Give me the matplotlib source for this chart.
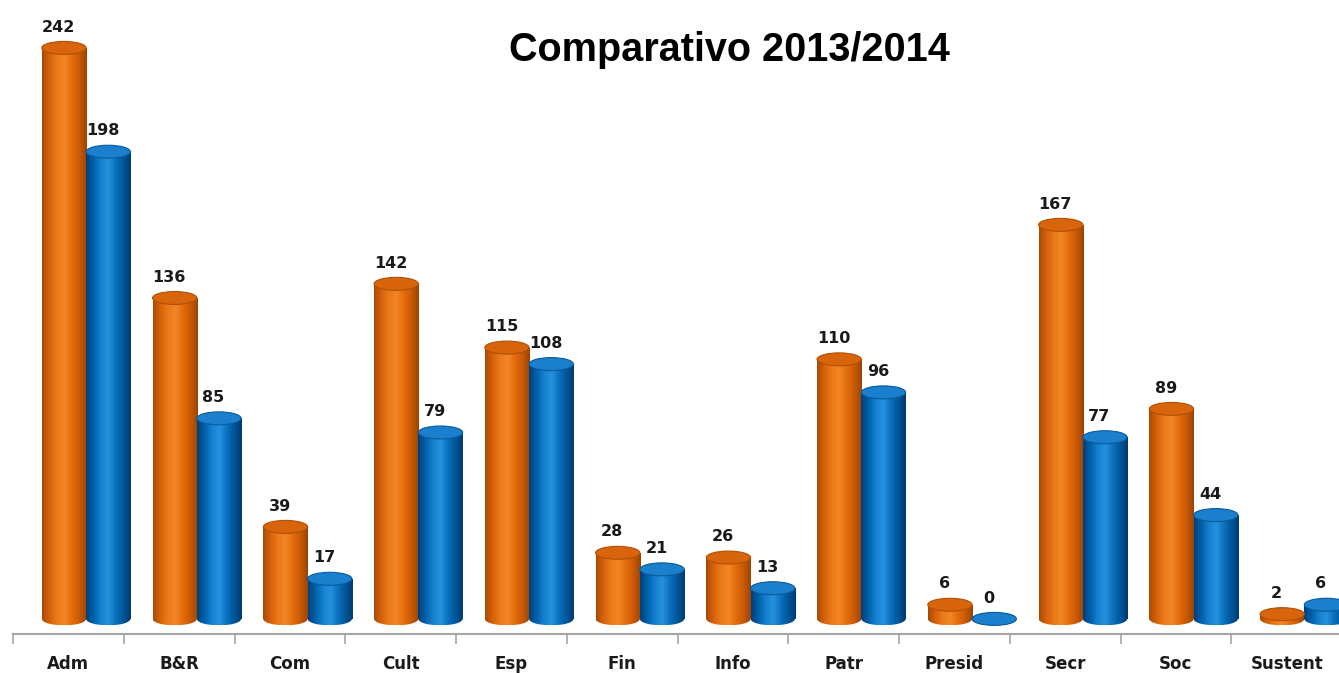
import numpy as np
import matplotlib.pyplot as plt
from matplotlib.patches import Rectangle, Ellipse
from matplotlib.colors import LinearSegmentedColormap

categorias = ['Adm', 'B&R', 'Com', 'Cult', 'Esp', 'Fin', 'Info', 'Patr',
              'Presid', 'Secr', 'Soc', 'Sustent']
valores_2013 = [242, 136, 39, 142, 115, 28, 26, 110, 6, 167, 89, 2]
valores_2014 = [198, 85, 17, 79, 108, 21, 13, 96, 0, 77, 44, 6]

cmap_lar = LinearSegmentedColormap.from_list(
    'lar', ['#A84A05', '#D6620A', '#EC7A18', '#F28626', '#E46C0C', '#C85A06', '#9A4304'])
cmap_azul = LinearSegmentedColormap.from_list(
    'azul', ['#003F78', '#0060AA', '#1580D0', '#2692DE', '#0A70BE', '#005699', '#003B6E'])

largura = 0.4
desloc = 0.16
h_elip = 5.5
grad = np.linspace(0, 1, 256).reshape(1, -1)


def cilindro(ax, xc, v, cmap, cor_topo, cor_borda):
    x0, x1 = xc - largura / 2, xc + largura / 2
    base = Ellipse((xc, 0), largura, h_elip, facecolor='none', edgecolor='none')
    ax.add_patch(base)
    im = ax.imshow(grad, cmap=cmap, extent=(x0, x1, -h_elip / 2, h_elip / 2),
                   aspect='auto', zorder=2, interpolation='bilinear')
    im.set_clip_path(base)
    if v > 0:
        corpo = Rectangle((x0, 0), largura, v, facecolor='none', edgecolor='none')
        ax.add_patch(corpo)
        im = ax.imshow(grad, cmap=cmap, extent=(x0, x1, 0, v),
                       aspect='auto', zorder=2, interpolation='bilinear')
        im.set_clip_path(corpo)
    ax.add_patch(Ellipse((xc, v), largura, h_elip, facecolor=cor_topo,
                         edgecolor=cor_borda, lw=0.8, zorder=3))
    ax.annotate(str(v), (xc, v), xytext=(-4, 15), textcoords='offset points',
                ha='center', va='center', fontsize=11.5, fontweight='bold',
                color='#1a1a1a', zorder=4)


fig = plt.figure(figsize=(13.39, 6.73), dpi=100)
ax = fig.add_axes([13 / 1339, 39 / 673, 1329 / 1339, 634 / 673])

for i in range(len(categorias)):
    cilindro(ax, i + desloc - largura / 2, valores_2013[i], cmap_lar, '#D8640B', '#B05005')
    cilindro(ax, i + desloc + largura / 2, valores_2014[i], cmap_azul, '#1A7FCC', '#0A5A9A')

ax.set_xlim(-0.5, 11.5)
ax.set_ylim(-6.4, 262.3)

for s in ['left', 'top', 'right']:
    ax.spines[s].set_visible(False)
ax.spines['bottom'].set_color('#A6A6A6')
ax.spines['bottom'].set_linewidth(1.5)
ax.set_yticks([])

ax.set_xticks(np.arange(-0.5, 12, 1))
ax.set_xticklabels([])
ax.tick_params(axis='x', which='major', direction='out', length=7, width=1.2, color='#A6A6A6')
ax.set_xticks(np.arange(len(categorias)), minor=True)
ax.set_xticklabels(categorias, minor=True, fontsize=12, fontweight='bold', color='#1a1a1a')
ax.tick_params(axis='x', which='minor', length=0, pad=15)

fig.text(729 / 1339, 1 - 50 / 673, 'Comparativo 2013/2014', ha='center', va='center',
         fontsize=28.5, fontweight='bold', family='Liberation Sans')

fig.savefig('out.png', dpi=100)
